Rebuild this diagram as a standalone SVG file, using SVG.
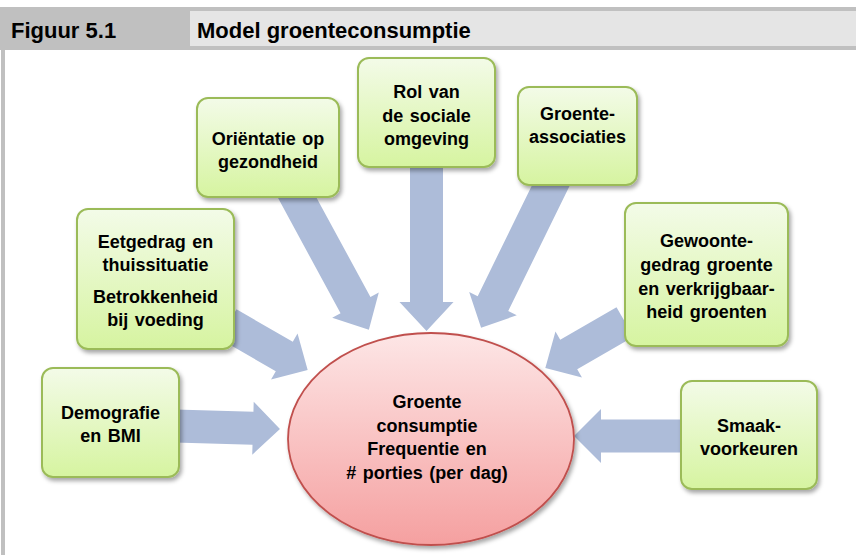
<svg xmlns="http://www.w3.org/2000/svg" width="856" height="555" viewBox="0 0 856 555">
<style>
  .hdr{font-family:"Liberation Sans",Arial,sans-serif;font-weight:bold;font-size:22px;fill:#000}
  .lbl{font-family:"Liberation Sans",Arial,sans-serif;font-weight:bold;font-size:18px;word-spacing:1.5px;fill:#000;text-anchor:middle}
  .box{fill:url(#gGreen);stroke:#9bbb59;stroke-width:2;filter:url(#shadow)}
  .ell{fill:url(#gRed);stroke:#c0504d;stroke-width:1.8;filter:url(#shadow)}
  .arr{fill:#adbcd9}
</style>
<defs>
  <linearGradient id="gGreen" x1="0" y1="0" x2="0" y2="1">
    <stop offset="0" stop-color="#f3fbe8"/>
    <stop offset="1" stop-color="#d6f4a0"/>
  </linearGradient>
  <linearGradient id="gRed" x1="0" y1="0" x2="0" y2="1">
    <stop offset="0" stop-color="#fde6e6"/>
    <stop offset="1" stop-color="#f5a0a0"/>
  </linearGradient>
  <filter id="shadow" x="-10%" y="-10%" width="125%" height="130%">
    <feDropShadow dx="2" dy="3" stdDeviation="2" flood-color="#000" flood-opacity="0.35"/>
  </filter>
</defs>

<rect x="0" y="0" width="856" height="555" fill="#fff"/>

<g id="header">
  <rect x="0" y="7" width="856" height="43" fill="#c0c0c0"/>
  <rect x="190" y="11" width="666" height="35" fill="#e5e5e5"/>
  <rect x="1" y="50" width="4" height="505" fill="#c0c0c0"/>
  <text class="hdr" x="11" y="38">Figuur 5.1</text>
  <text class="hdr" x="197" y="38">Model groenteconsumptie</text>
</g>

<g id="connectors">
  <polygon class="arr" transform="translate(175,426) rotate(1.6)" points="0,-16.5 78,-16.5 78,-26.5 105,0 78,26.5 78,16.5 0,16.5"/>
  <polygon class="arr" transform="translate(228,324) rotate(30)" points="0,-17 65,-17 65,-26.5 92,0 65,26.5 65,17 0,17"/>
  <polygon class="arr" transform="translate(293,190) rotate(61.5)" points="0,-17 131,-17 131,-26.5 159,0 131,26.5 131,17 0,17"/>
  <polygon class="arr" transform="translate(426.5,160) rotate(90)" points="0,-16.5 142,-16.5 142,-27 171,0 142,27 142,16.5 0,16.5"/>
  <polygon class="arr" transform="translate(555,177) rotate(116.1)" points="0,-17 141,-17 141,-26.5 168,0 141,26.5 141,17 0,17"/>
  <polygon class="arr" transform="translate(625,322) rotate(150)" points="0,-17 65,-17 65,-26.5 92,0 65,26.5 65,17 0,17"/>
  <polygon class="arr" transform="translate(685,436) rotate(180)" points="0,-16.5 84,-16.5 84,-27 111,0 84,27 84,16.5 0,16.5"/>
</g>

<g id="demografie">
  <rect class="box" x="42" y="368" width="137" height="109" rx="11"/>
  <text class="lbl" x="110.5" y="419">Demografie</text>
  <text class="lbl" x="110.5" y="442">en BMI</text>
</g>

<g id="eetgedrag">
  <rect class="box" x="77" y="209" width="157" height="140" rx="11"/>
  <text class="lbl" x="155.5" y="248">Eetgedrag en</text>
  <text class="lbl" x="155.5" y="271">thuissituatie</text>
  <text class="lbl" x="155.5" y="303">Betrokkenheid</text>
  <text class="lbl" x="155.5" y="326">bij voeding</text>
</g>

<g id="orientatie">
  <rect class="box" x="197" y="98" width="142" height="99" rx="11"/>
  <text class="lbl" x="268" y="145">Oriëntatie op</text>
  <text class="lbl" x="268" y="168">gezondheid</text>
</g>

<g id="sociale-omgeving">
  <rect class="box" x="358" y="58" width="137" height="109" rx="11"/>
  <text class="lbl" x="426.5" y="98">Rol van</text>
  <text class="lbl" x="426.5" y="122">de sociale</text>
  <text class="lbl" x="426.5" y="145">omgeving</text>
</g>

<g id="associaties">
  <rect class="box" x="518" y="87" width="119" height="98" rx="11"/>
  <text class="lbl" x="577.5" y="120">Groente-</text>
  <text class="lbl" x="577.5" y="143">associaties</text>
</g>

<g id="gewoontegedrag">
  <rect class="box" x="625" y="203" width="163" height="143" rx="11"/>
  <text class="lbl" x="706.5" y="247">Gewoonte-</text>
  <text class="lbl" x="706.5" y="271">gedrag groente</text>
  <text class="lbl" x="706.5" y="295">en verkrijgbaar-</text>
  <text class="lbl" x="706.5" y="318">heid groenten</text>
</g>

<g id="smaakvoorkeuren">
  <rect class="box" x="681" y="381" width="136" height="108" rx="11"/>
  <text class="lbl" x="749" y="432">Smaak-</text>
  <text class="lbl" x="749" y="455">voorkeuren</text>
</g>

<g id="groenteconsumptie">
  <ellipse class="ell" cx="431" cy="439" rx="143" ry="106"/>
  <text class="lbl" x="427" y="408">Groente</text>
  <text class="lbl" x="427" y="432">consumptie</text>
  <text class="lbl" x="427" y="455">Frequentie en</text>
  <text class="lbl" x="427" y="479"># porties (per dag)</text>
</g>
</svg>
